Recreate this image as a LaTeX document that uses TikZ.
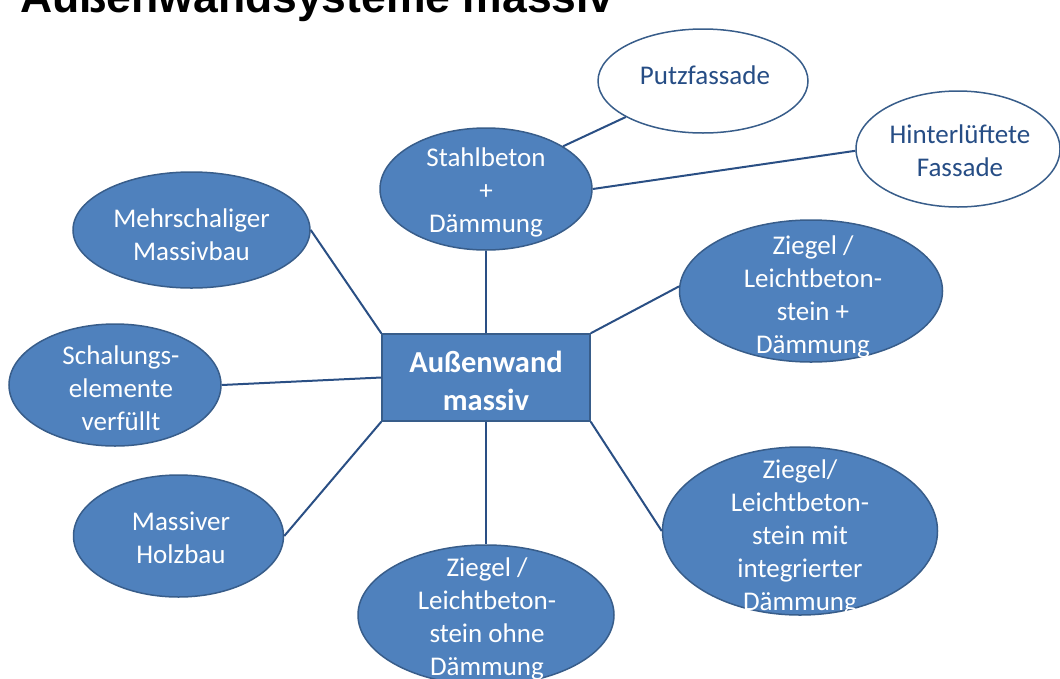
\documentclass[tikz,border=0pt]{standalone}
\usepackage{fontspec}
\setmainfont{Carlito}
\newfontfamily\titlefont{Liberation Sans}
\usetikzlibrary{shapes.geometric}
\definecolor{fillblue}{HTML}{4F81BD}
\definecolor{edgeblue}{HTML}{385D8A}
\definecolor{linkblue}{HTML}{2A4F84}
\definecolor{textblue}{HTML}{264D85}
\begin{document}
\begin{tikzpicture}[x=1pt,y=-1pt,
  bub/.style={ellipse, draw=edgeblue, fill=fillblue, line width=1.5pt, inner sep=0pt},
  wbub/.style={ellipse, draw=edgeblue, fill=white, line width=1.5pt, inner sep=0pt},
  lbl/.style={align=center, text=white, font=\fontsize{27}{33}\selectfont, inner sep=0pt},
  blbl/.style={lbl, text=textblue},
  link/.style={draw=linkblue, line width=2pt}]
\useasboundingbox (0,0) rectangle (1060,678);
\clip (0,0) rectangle (1060,678);

% title
\node[anchor=base west, inner sep=0pt] (title) at (20,12)
  {\titlefont\bfseries\fontsize{44.5}{50}\selectfont Außenwandsysteme massiv};

% centre
\node[draw=edgeblue, fill=fillblue, line width=1.5pt, minimum width=208pt, minimum height=87pt, inner sep=0pt] (c) at (486,377.5) {};
\node[lbl, font=\fontsize{30.5}{38}\selectfont\bfseries] (ct) at (486,381) {Außenwand\\massiv};

% ellipses
\node[bub, minimum width=212pt, minimum height=122pt] (st) at (486,189) {};
\node[lbl] (stt) at (486,192) {Stahlbeton\\+\\Dämmung};

\node[wbub, minimum width=210pt, minimum height=104pt] (pu) at (703,81) {};
\node[blbl] (put) at (705,75) {Putzfassade};

\node[wbub, minimum width=204pt, minimum height=116pt] (hi) at (958,149) {};
\node[blbl] (hit) at (960,151) {Hinterlüftete\\Fassade};

\node[bub, minimum width=237pt, minimum height=116pt] (me) at (191.5,230) {};
\node[lbl] (met) at (191.5,235) {Mehrschaliger\\Massivbau};

\node[bub, minimum width=212pt, minimum height=122pt] (sc) at (115,385) {};
\node[lbl] (sct) at (121,388) {Schalungs-\\elemente\\verfüllt};

\node[bub, minimum width=210pt, minimum height=122pt] (ho) at (178.5,536) {};
\node[lbl] (hot) at (181,538) {Massiver\\Holzbau};

\node[bub, minimum width=256pt, minimum height=140pt] (zo) at (486,615) {};
\node[lbl] (zot) at (487,619) {Ziegel /\\Leichtbeton-\\stein ohne\\Dämmung};

\node[bub, minimum width=263pt, minimum height=142pt] (zr) at (811,291) {};
\node[lbl] (zrt) at (813,297) {Ziegel /\\Leichtbeton-\\stein +\\Dämmung};

\node[bub, minimum width=275pt, minimum height=168pt] (zi) at (800,531) {};
\node[lbl] (zit) at (800,537) {Ziegel/\\Leichtbeton-\\stein mit\\integrierter\\Dämmung};

% connectors
\draw[link] (c.north) -- (st.south);
\draw[link] (st.29.6) -- (pu.205);
\draw[link] (st.east) -- (hi.181);
\draw[link] (c.north east) -- (zr.178);
\draw[link] (c.south east) -- (zi.west);
\draw[link] (c.south) -- (zo.north);
\draw[link] (c.south west) -- (ho.east);
\draw[link] (c.west) -- (sc.east);
\draw[link] (c.north west) -- (me.east);
\end{tikzpicture}
\end{document}
